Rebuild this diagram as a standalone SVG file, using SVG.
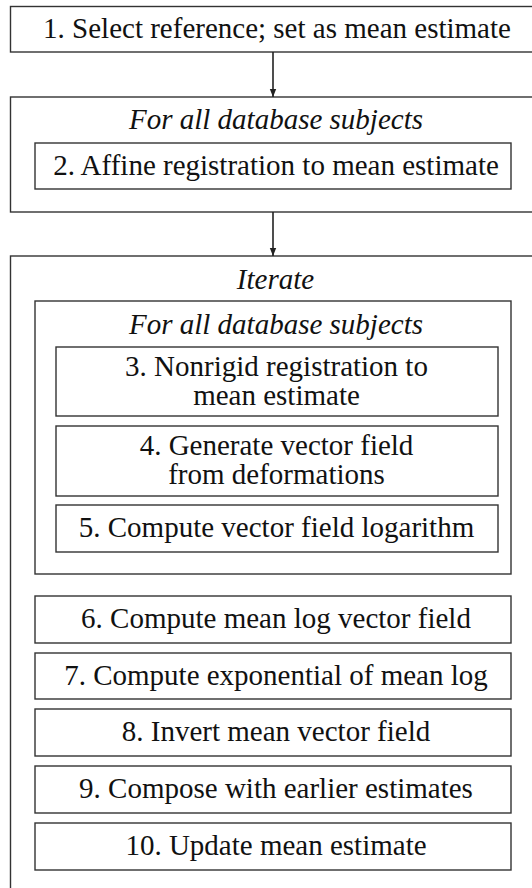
<svg xmlns="http://www.w3.org/2000/svg" width="532" height="888" viewBox="0 0 532 888" font-family="Liberation Serif">
<style>
rect{fill:#fff;stroke:#333;stroke-width:1.4}
text{font-family:'Liberation Serif',serif;font-size:29px;fill:#111;text-anchor:middle}
.it{font-style:italic}
.c{stroke:#222;stroke-width:1.6;fill:none}
</style>
<defs>
<marker id="ah" viewBox="0 0 10 10" refX="10" refY="5" markerWidth="8" markerHeight="8" markerUnits="userSpaceOnUse" orient="auto"><path d="M0,1 L10,5 L0,9 z" fill="#222"/></marker>
</defs>
<g id="n1"><rect x="10.5" y="6.5" width="540" height="45.5"/><text x="277" y="38">1. Select reference; set as mean estimate</text></g>
<g id="g2"><rect x="10.5" y="97" width="540" height="115"/><text class="it" x="276" y="129">For all database subjects</text></g>
<g id="n2"><rect x="35" y="143" width="476" height="46"/><text x="276" y="174.5">2. Affine registration to mean estimate</text></g>
<g id="g3"><rect x="10.5" y="256" width="540" height="640"/><text class="it" x="275.5" y="289">Iterate</text></g>
<g id="g4"><rect x="35" y="301" width="476" height="273"/><text class="it" x="276" y="334">For all database subjects</text></g>
<g id="n3"><rect x="56" y="347" width="442" height="69"/><text x="276.5" y="375.5">3. Nonrigid registration to</text><text x="276.5" y="404.5">mean estimate</text></g>
<g id="n4"><rect x="56" y="426" width="442" height="70"/><text x="276.5" y="455">4. Generate vector field</text><text x="276.5" y="484">from deformations</text></g>
<g id="n5"><rect x="56" y="505" width="442" height="47"/><text x="276.5" y="537">5. Compute vector field logarithm</text></g>
<g id="n6"><rect x="35" y="596" width="476" height="47"/><text x="276" y="628">6. Compute mean log vector field</text></g>
<g id="n7"><rect x="35" y="653" width="476" height="46"/><text x="276" y="684.5">7. Compute exponential of mean log</text></g>
<g id="n8"><rect x="35" y="709" width="476" height="47"/><text x="276" y="741">8. Invert mean vector field</text></g>
<g id="n9"><rect x="35" y="766" width="476" height="47"/><text x="276" y="798">9. Compose with earlier estimates</text></g>
<g id="n10"><rect x="35" y="823" width="476" height="47"/><text x="276" y="855">10. Update mean estimate</text></g>
<g id="connectors">
<line class="c" x1="273" y1="52" x2="273" y2="97" marker-end="url(#ah)"/>
<line class="c" x1="273" y1="212" x2="273" y2="256" marker-end="url(#ah)"/>
</g>
</svg>
